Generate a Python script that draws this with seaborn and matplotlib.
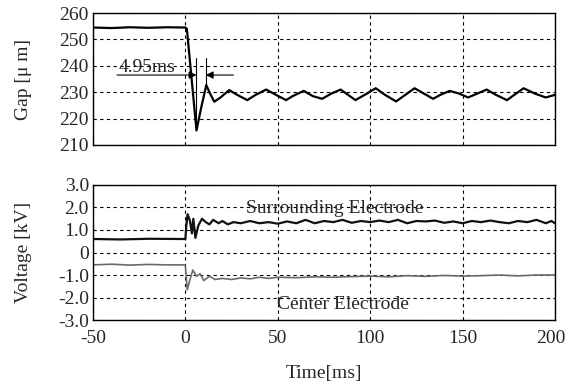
import matplotlib
matplotlib.use("Agg")
from matplotlib import pyplot as plt
from matplotlib import transforms
import pandas as pd
import seaborn as sns

# gap response (time [ms], gap [um])
t_gap = [-50, -40, -30, -20, -10, 0, 0.8, 6, 8.5, 11.3, 13, 15.6, 19, 23.7, 28,
         33.5, 38, 43.7, 49, 54.5, 58, 64, 69, 74, 79, 84, 88, 92, 97, 103,
         108, 114, 119, 124, 129, 134, 138, 143, 148, 153, 158, 163, 168, 174,
         178, 183, 189, 195, 200]
gap = [254.5, 254.3, 254.6, 254.4, 254.6, 254.5, 254, 215.5, 224, 232.7, 230,
       226.4, 228, 230.8, 229, 227, 229, 231, 229, 227, 228.5, 230.5, 228.5,
       227.5, 229.5, 231, 229, 227, 229, 231.5, 229, 226.5, 229, 231.5, 229.5,
       227.5, 229, 230.5, 229.5, 228, 229.5, 231, 229, 227, 229, 231.5, 229.5,
       228, 229]

# surrounding electrode voltage [kV]
t_sur = [-50, -35, -20, -1, 0, 0.5, 1.2, 2.5, 3.5, 4.3, 5.4, 7, 9, 11, 13, 15,
         18, 20, 23, 26, 30, 35, 40, 45, 50, 55, 60, 65, 70, 75, 80, 85, 90,
         95, 100, 105, 110, 115, 120, 125, 130, 135, 140, 145, 150, 155, 160,
         165, 170, 175, 180, 185, 190, 195, 198, 200]
v_sur = [0.6, 0.58, 0.61, 0.6, 0.6, 1.2, 1.7, 1.4, 0.85, 1.5, 0.65, 1.2, 1.5,
         1.35, 1.25, 1.45, 1.3, 1.4, 1.25, 1.35, 1.3, 1.4, 1.3, 1.35, 1.28,
         1.38, 1.3, 1.45, 1.3, 1.4, 1.35, 1.45, 1.32, 1.4, 1.35, 1.42, 1.35,
         1.45, 1.3, 1.4, 1.38, 1.42, 1.32, 1.38, 1.3, 1.4, 1.35, 1.42, 1.35,
         1.3, 1.4, 1.35, 1.45, 1.3, 1.4, 1.3]

# center electrode voltage [kV]
t_cen = [-50, -40, -30, -20, -10, -1, 0, 1, 2.5, 4, 6, 8, 10, 13, 16, 20, 25,
         30, 35, 40, 45, 50, 60, 70, 80, 90, 100, 110, 120, 130, 140, 150, 160,
         170, 180, 190, 200]
v_cen = [-0.55, -0.52, -0.56, -0.53, -0.55, -0.55, -0.6, -1.66, -1.2, -0.78,
         -1.05, -0.95, -1.25, -1.05, -1.2, -1.15, -1.2, -1.13, -1.17, -1.1,
         -1.15, -1.1, -1.12, -1.08, -1.1, -1.07, -1.05, -1.08, -1.03, -1.06,
         -1.02, -1.05, -1.03, -1.0, -1.04, -1.0, -1.0]

x_ticks = [-50, 0, 50, 100, 150, 200]
gap_ticks = [210, 220, 230, 240, 250, 260]
volt_ticks = [-3, -2, -1, 0, 1, 2, 3]
volt_labels = ["-3.0", "-2.0", "-1.0", "0", "1.0", "2.0", "3.0"]

gap_df = pd.DataFrame({"t": t_gap, "gap": gap})
sur_df = pd.DataFrame({"t": t_sur, "v": v_sur})
cen_df = pd.DataFrame({"t": t_cen, "v": v_cen})

sns.set_style("white")
plt.rcParams["font.family"] = ["Liberation Serif", "DejaVu Serif"]
plt.rcParams["font.size"] = 14
plt.rcParams["axes.unicode_minus"] = False

fig = plt.figure(figsize=(5.66, 3.85), dpi=100)
ax1 = fig.add_axes([0.1643, 0.6234, 0.8163, 0.3428])
ax2 = fig.add_axes([0.1643, 0.1688, 0.8163, 0.3507])

sns.lineplot(data=gap_df, x="t", y="gap", ax=ax1, color="black", lw=1.6)
sns.lineplot(data=sur_df, x="t", y="v", ax=ax2, color="#111111", lw=1.6)
sns.lineplot(data=cen_df, x="t", y="v", ax=ax2, color="#6a6a6a", lw=1.2)

for ax in [ax1, ax2]:
    ax.set_xlim(-50, 200)
    ax.set_xticks(x_ticks)
    ax.grid(True, color="black", ls=(0, (3, 3)), lw=0.8)
    ax.tick_params(length=0, labelsize=14, pad=3)
    ax.tick_params(axis="x", pad=7)
    for s in ax.spines.values():
        s.set_color("black")
        s.set_linewidth(1.0)
    ax.set_xlabel("")

ax1.set_ylim(210, 260)
ax1.set_yticks(gap_ticks)
ax1.set_xticklabels([])
ax1.set_ylabel("Gap [μ m]", fontsize=14)
ax1.yaxis.set_label_coords(-0.133, 0.5)

ax2.set_ylim(-3, 3)
ax2.set_yticks(volt_ticks)
ax2.set_yticklabels(volt_labels)
ax2.set_ylabel("Voltage [kV]", fontsize=14)
ax2.yaxis.set_label_coords(-0.133, 0.5)
ax2.set_xlabel("Time[ms]", fontsize=14)
ax2.xaxis.set_label_coords(0.5, -0.33)

# keep the last tick label inside the figure
last = ax2.get_xticklabels()[-1]
last.set_transform(last.get_transform() +
                   transforms.ScaledTranslation(-4 / 100, 0, fig.dpi_scale_trans))

# 4.95 ms annotation
t_lo, t_hi = 6, 11
ax1.plot([t_lo, t_lo], [217, 243], color="black", lw=0.8)
ax1.plot([t_hi, t_hi], [232.7, 243], color="black", lw=0.8)
arrow_y = 236.5
ax1.annotate("", xy=(t_lo, arrow_y), xytext=(-37, arrow_y),
             arrowprops=dict(arrowstyle="-|>", color="black", lw=0.8,
                             mutation_scale=11, shrinkA=0, shrinkB=0))
ax1.annotate("", xy=(t_hi, arrow_y), xytext=(26, arrow_y),
             arrowprops=dict(arrowstyle="-|>", color="black", lw=0.8,
                             mutation_scale=11, shrinkA=0, shrinkB=0))
ax1.text(-21, arrow_y - 0.2, "4.95ms", ha="center", va="bottom", fontsize=14)

ax2.text(81, 1.95, "Surrounding Electrode", ha="center", va="center", fontsize=14)
ax2.text(85.5, -2.3, "Center Electrode", ha="center", va="center", fontsize=14)

fig.savefig("out.png", dpi=100)
